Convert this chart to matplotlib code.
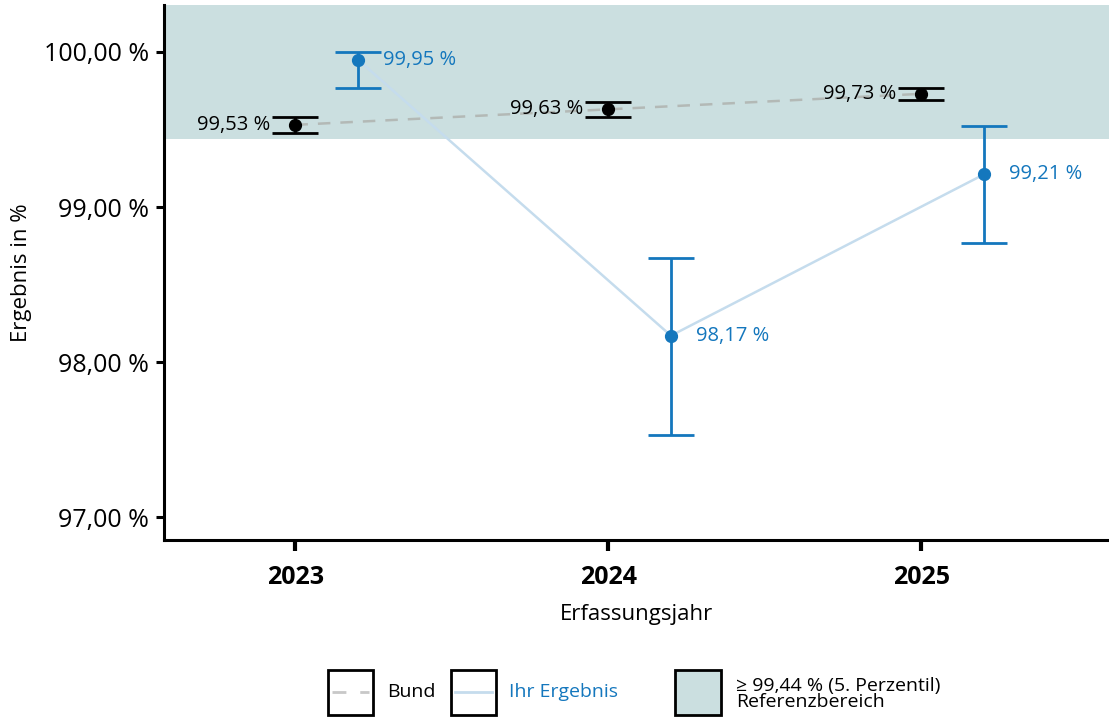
import matplotlib
matplotlib.use("Agg")
import matplotlib.pyplot as plt
from matplotlib.patches import Rectangle
from matplotlib.lines import Line2D

plt.rcParams['font.family'] = ['Open Sans', 'DejaVu Sans']

years = ["2023", "2024", "2025"]
bund = [99.53, 99.63, 99.73]
bund_lo = [99.48, 99.58, 99.69]
bund_hi = [99.58, 99.68, 99.77]
ihr = [99.95, 98.17, 99.21]
ihr_lo = [99.77, 97.53, 98.77]
ihr_hi = [100.00, 98.67, 99.52]
ref_threshold = 99.44
yticks = [97, 98, 99, 100]
ytick_labels = ["97,00 %", "98,00 %", "99,00 %", "100,00 %"]

BLUE = "#1477bd"
LIGHTBLUE = "#c5dced"
GRAY = "#b3b9b6"
REF = "#cbdfe0"

fig = plt.figure(figsize=(11.09, 7.22), dpi=100)
ax = fig.add_axes([164/1109, 182/722, 1 - 164/1109, (540-5)/722])

xb = [i for i in range(len(years))]
xi = [i + 0.2 for i in range(len(years))]

ax.set_xlim(-0.42, 2.60)
ax.set_ylim(96.852, 100.303)
ax.axhspan(ref_threshold, 101, color=REF, zorder=0, lw=0)

ax.plot(xb, bund, ls=(0, (5, 4)), color=GRAY, lw=1.8, zorder=2)
ax.plot(xi, ihr, color=LIGHTBLUE, lw=1.8, zorder=2)

ax.errorbar(xb, bund, yerr=[[b - l for b, l in zip(bund, bund_lo)], [h - b for b, h in zip(bund, bund_hi)]],
            fmt='o', color='black', ms=8.5, capsize=16.5, capthick=2, elinewidth=2, zorder=3)
ax.errorbar(xi, ihr, yerr=[[v - l for v, l in zip(ihr, ihr_lo)], [h - v for v, h in zip(ihr, ihr_hi)]],
            fmt='o', color=BLUE, ms=8.5, capsize=16.5, capthick=2, elinewidth=2, zorder=3)

def fmt(v):
    return f"{v:.2f}".replace(".", ",") + " %"

for x, v in zip(xb, bund):
    ax.text(x - 0.08, v, fmt(v), ha='right', va='center', fontsize=14.5, color='black', zorder=4)
for x, v in zip(xi, ihr):
    ax.text(x + 0.08, v, fmt(v), ha='left', va='center', fontsize=14.5, color=BLUE, zorder=4)

ax.set_xticks(xb)
ax.set_xticklabels(years, fontsize=18, fontweight='bold')
ax.set_yticks(yticks)
ax.set_yticklabels(ytick_labels, fontsize=18)
ax.tick_params(axis='x', length=8, width=3, pad=10)
ax.tick_params(axis='y', length=6, width=2.2, pad=5)
for s in ['top', 'right']:
    ax.spines[s].set_visible(False)
for s in ['left', 'bottom']:
    ax.spines[s].set_linewidth(2.2)

ax.set_xlabel("Erfassungsjahr", fontsize=16, labelpad=10)
ax.set_ylabel("Ergebnis in %", fontsize=16, labelpad=8)

# legend
def px(x, y):
    return x / 1109, 1 - y / 722

def box(x0, y0, w, h, fc='white'):
    fx, fy = px(x0, y0 + h)
    fig.patches.append(Rectangle((fx, fy), w / 1109, h / 722, transform=fig.transFigure,
                                 facecolor=fc, edgecolor='black', lw=2))

box(328, 670, 45, 45)
fig.lines.append(Line2D([px(332, 0)[0], px(369, 0)[0]], [px(0, 692)[1]] * 2, transform=fig.transFigure,
                        color="#c8c8c8", ls=(0, (5, 5)), lw=2))
fig.text(*px(387, 692), "Bund", fontsize=14, va='center', ha='left')
box(451, 670, 45, 45)
fig.lines.append(Line2D([px(455, 0)[0], px(492, 0)[0]], [px(0, 692)[1]] * 2, transform=fig.transFigure,
                        color=LIGHTBLUE, lw=2))
fig.text(*px(509, 692), "Ihr Ergebnis", fontsize=14, va='center', ha='left', color=BLUE)
box(675, 670, 46, 45, fc=REF)
fig.text(*px(736, 694), "≥ 99,44 % (5. Perzentil)\nReferenzbereich", fontsize=14, va='center', ha='left',
         linespacing=0.9)

fig.savefig("out.png", dpi=100)
